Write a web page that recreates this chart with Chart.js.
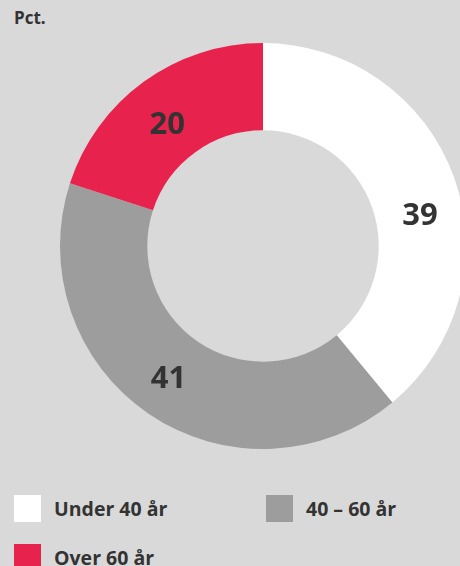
<!DOCTYPE html>
<html>
<head>
<meta charset="utf-8">
<script src="https://cdn.jsdelivr.net/npm/chart.js@4"></script>
<style>
  html, body { margin: 0; padding: 0; }
  body { width: 460px; height: 566px; background: #d9d9d9; overflow: hidden; position: relative;
         font-family: "Open Sans", sans-serif; color: #333; }
  #title { position: absolute; left: 14px; top: 6px; font-size: 17px; font-weight: bold; }
  #wrap { position: absolute; left: 60px; top: 43px; width: 406px; height: 406px; }
  #legend { position: absolute; left: 14px; top: 495px; width: 460px; }
  .item { position: absolute; height: 27px; line-height: 27px; font-size: 19.5px; font-weight: bold; white-space: nowrap; }
  .box { display: inline-block; width: 27px; height: 27px; vertical-align: top; margin-right: 13px; }
</style>
</head>
<body>
<div id="title">Pct.</div>
<div id="wrap"><canvas id="myChart"></canvas></div>
<div id="legend"></div>
<script>
var labels = ['Under 40 år', '40 – 60 år', 'Over 60 år'];
var values = [39, 41, 20];
var colors = ['#ffffff', '#9d9d9d', '#e7234d'];

// tal i hvert stykke, lidt flyttet som i originalen
const valueLabels = {
  id: 'valueLabels',
  afterDatasetsDraw(chart) {
    const ctx = chart.ctx;
    const meta = chart.getDatasetMeta(0);
    const nudge = [[7, 24], [-5, 1], [-2, 8]];
    ctx.save();
    ctx.font = 'bold 31px "Open Sans"';
    ctx.fillStyle = '#333333';
    ctx.textAlign = 'center';
    ctx.textBaseline = 'middle';
    meta.data.forEach((arc, i) => {
      const p = arc.tooltipPosition();
      ctx.fillText(values[i], p.x + nudge[i][0], p.y + nudge[i][1]);
    });
    ctx.restore();
  }
};

new Chart(document.getElementById('myChart'), {
  type: 'doughnut',
  data: {
    labels: labels,
    datasets: [{
      data: values,
      backgroundColor: colors,
      borderWidth: 0
    }]
  },
  options: {
    responsive: true,
    maintainAspectRatio: false,
    animation: false,
    cutout: '57%',
    layout: { padding: 0 },
    plugins: {
      legend: { display: false },
      tooltip: { enabled: false }
    }
  },
  plugins: [valueLabels]
});

var legend = document.getElementById('legend');
labels.forEach(function(l, i) {
  var d = document.createElement('div');
  d.className = 'item';
  d.style.left = (i % 2) * 252 + 'px';
  d.style.top = Math.floor(i / 2) * 49 + 'px';
  d.innerHTML = '<span class="box" style="background:' + colors[i] + '"></span>' + l;
  legend.appendChild(d);
});
</script>
</body>
</html>
